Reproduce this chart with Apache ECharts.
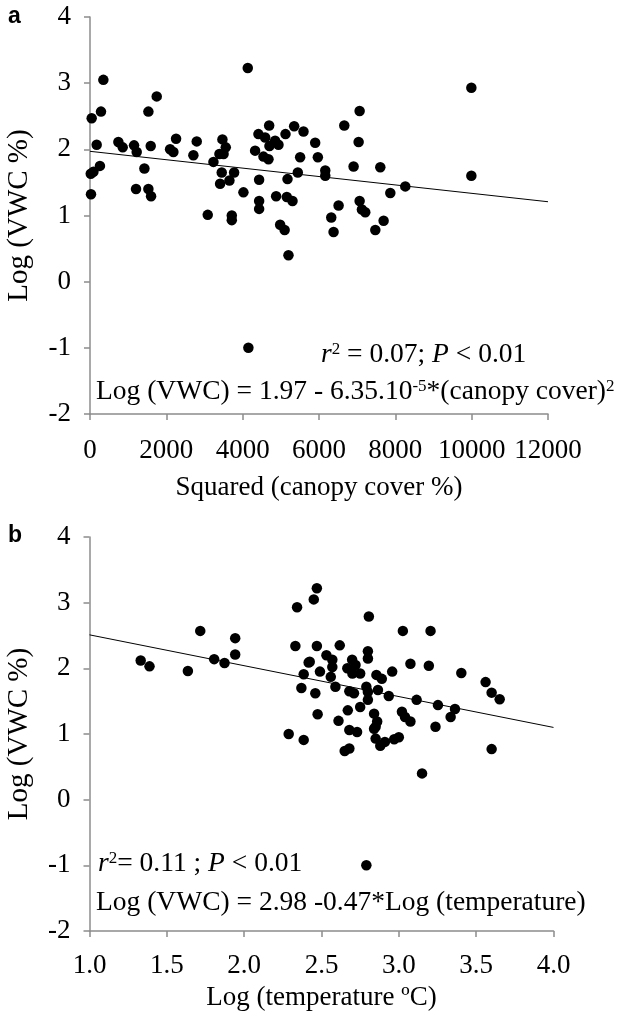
<!DOCTYPE html>
<html><head><meta charset="utf-8">
<script src="https://cdn.jsdelivr.net/npm/echarts@6.0.0/dist/echarts.min.js"></script>
<style>html,body{margin:0;padding:0;background:#fff}#c{width:623px;height:1016px}</style>
</head><body><div id="c"></div>
<script>
// Panel a: squared canopy cover (%) vs Log(VWC %)
const aCanopySq = [44,350,288,175,20,90,260,26,743,857,1154,1224,1206,1425,1530,1591,1530,1600,1748,2098,2185,2255,2709,2797,3085,3234,3470,3391,3557,3500,3452,3409,3653,3776,3715,3715,4020,4134,4326,4413,4545,4676,4589,4694,4702,4850,4938,4431,4431,4431,4877,4982,5100,5200,5122,5175,5157,5306,5349,5445,5506,5594,5900,5970,6164,6164,6662,7064,7038,6906,7606,8261,7868,9992,9992,6513,6321,6382,7064,7125,7212,7693,7475,4150];
const aLogVWC  = [2.47,3.05,2.57,2.07,1.63,1.66,1.75,1.32,2.11,2.03,2.06,1.96,1.40,1.71,2.57,2.05,1.40,1.29,2.80,2.00,1.96,2.16,1.91,2.12,1.01,1.81,2.15,1.93,2.03,1.93,1.65,1.48,1.53,1.65,1.00,0.93,1.35,3.23,1.98,2.23,1.89,1.85,2.18,2.36,2.05,2.13,2.07,1.54,1.22,1.10,1.29,0.86,0.78,0.40,2.23,1.55,1.28,1.22,2.35,1.65,1.88,2.27,2.10,1.88,1.68,1.60,2.36,2.58,2.11,1.74,1.73,1.44,1.34,2.93,1.60,1.15,0.97,0.75,1.22,1.09,1.05,0.92,0.78,-1.00];
// Panel b: Log(temperature) vs Log(VWC %)
const bLogTemp = [1.331,1.388,1.636,1.716,1.806,1.873,1.942,1.942,2.342,2.331,2.417,2.385,2.37,2.47,2.46,2.475,2.47,2.45,2.49,2.288,2.385,2.806,3.026,3.205,2.618,2.80,2.80,2.532,2.424,2.57,2.57,2.698,2.667,2.72,2.75,2.70,2.855,2.89,2.957,3.075,3.194,3.404,3.561,3.60,3.652,2.56,2.59,2.68,2.71,2.79,2.80,2.865,2.935,2.80,2.75,2.67,3.115,3.253,3.363,3.335,2.84,3.02,3.04,3.075,2.61,2.86,2.85,2.84,3.237,2.68,2.73,2.85,2.91,2.97,2.65,2.68,2.88,3.00,3.15,3.60,2.79];
const bLogVWC  = [2.12,2.03,1.96,2.57,2.14,2.08,2.46,2.21,2.93,2.34,2.09,1.91,1.70,2.34,1.62,1.30,3.22,3.05,1.95,1.00,0.91,2.79,2.57,2.57,2.35,2.26,2.15,2.20,2.10,2.13,2.02,2.13,2.00,2.05,1.92,1.92,1.90,1.84,1.95,2.07,2.04,1.93,1.79,1.63,1.53,1.87,1.72,1.65,1.62,1.72,1.64,1.67,1.58,1.52,1.41,1.36,1.52,1.44,1.38,1.26,1.31,1.34,1.26,1.19,1.20,1.19,1.11,1.08,1.11,1.06,1.03,0.93,0.88,0.92,0.74,0.78,0.82,0.95,0.40,0.77,-1.00];
// Regression fits (from the figure's equations)
const aIntercept = 1.97, aSlope = -6.35e-5, aRange = [0, 12000];
const bIntercept = 2.98, bSlope = -0.47, bRange = [1.0, 4.0];
const aXTicks = {min: 0, max: 12000, interval: 2000};
const bXTicks = {min: 1.0, max: 4.0, interval: 0.5};
const yTicks = {min: -2, max: 4, interval: 1};

const FONT = '"Liberation Serif","Times New Roman",serif';
const GRAY = '#8c8c8c';
const chart = echarts.init(document.getElementById('c'), null, {renderer: 'canvas'});

function pairs(xs, ys) { return xs.map((x, i) => [x, ys[i]]); }
function fitLine(b0, b1, r) { return r.map(x => [x, b0 + b1 * x]); }

function xAxisCfg(gi, t, name, fmt, margin, gap) {
  return {
    gridIndex: gi, type: 'value', min: t.min, max: t.max, interval: t.interval,
    axisLine: {show: true, onZero: false, lineStyle: {color: GRAY, width: 1.5}},
    axisTick: {show: true, inside: false, length: 6, lineStyle: {color: GRAY, width: 1.5}},
    splitLine: {show: false},
    axisLabel: {color: '#000', fontFamily: FONT, fontSize: 27, margin: margin, formatter: fmt},
    name: name, nameLocation: 'middle', nameGap: gap,
    nameTextStyle: {color: '#000', fontFamily: FONT, fontSize: 27}
  };
}
function yAxisCfg(gi) {
  return {
    gridIndex: gi, type: 'value', min: yTicks.min, max: yTicks.max, interval: yTicks.interval,
    axisLine: {show: true, onZero: false, lineStyle: {color: GRAY, width: 1.5}},
    axisTick: {show: true, inside: false, length: 6, lineStyle: {color: GRAY, width: 1.5}},
    splitLine: {show: false},
    axisLabel: {color: '#000', fontFamily: FONT, fontSize: 27, margin: 19},
    name: 'Log (VWC %)', nameLocation: 'middle', nameGap: 56, nameRotate: 90,
    nameTextStyle: {color: '#000', fontFamily: FONT, fontSize: 29}
  };
}
const FS = 27.5;
const rich = {
  t: {fontFamily: FONT, fontSize: FS, color: '#000'},
  i: {fontFamily: FONT, fontSize: FS, fontStyle: 'italic', color: '#000'},
  s: {fontFamily: FONT, fontSize: 17, color: '#000', verticalAlign: 'top'}
};
function txt(x, y, s) {
  return {type: 'text', x: x, y: y, z: 100,
    style: {text: s, rich: rich, fontFamily: FONT, fontSize: FS, fill: '#000', verticalAlign: 'middle'}};
}

chart.setOption({
  animation: false,
  backgroundColor: '#fff',
  grid: [
    {left: 90, right: 75, top: 17, height: 397, containLabel: false, outerBoundsMode: 'none'},
    {left: 89.5, right: 69.5, top: 537, height: 394, containLabel: false, outerBoundsMode: 'none'}
  ],
  xAxis: [
    xAxisCfg(0, aXTicks, 'Squared (canopy cover %)', v => String(v), 23, 60),
    xAxisCfg(1, bXTicks, 'Log (temperature ºC)', v => v.toFixed(1), 21, 53)
  ],
  yAxis: [yAxisCfg(0), yAxisCfg(1)],
  series: [
    {type: 'scatter', xAxisIndex: 0, yAxisIndex: 0, data: pairs(aCanopySq, aLogVWC),
     symbolSize: 10.5, itemStyle: {color: '#000', opacity: 1}},
    {type: 'line', xAxisIndex: 0, yAxisIndex: 0, data: fitLine(aIntercept, aSlope, aRange),
     showSymbol: false, lineStyle: {color: '#000', width: 1}, silent: true},
    {type: 'scatter', xAxisIndex: 1, yAxisIndex: 1, data: pairs(bLogTemp, bLogVWC),
     symbolSize: 10.5, itemStyle: {color: '#000', opacity: 1}},
    {type: 'line', xAxisIndex: 1, yAxisIndex: 1, data: fitLine(bIntercept, bSlope, bRange),
     showSymbol: false, lineStyle: {color: '#000', width: 1}, silent: true}
  ],
  graphic: [
    {type: 'text', x: 8, y: 17, style: {text: 'a', fontFamily: 'Liberation Sans, Arial, sans-serif', fontWeight: 'bold', fontSize: 23, fill: '#000', verticalAlign: 'middle'}},
    {type: 'text', x: 8, y: 536, style: {text: 'b', fontFamily: 'Liberation Sans, Arial, sans-serif', fontWeight: 'bold', fontSize: 23, fill: '#000', verticalAlign: 'middle'}},
    txt(321, 355, '{i|r}{s|2}{t| = 0.07; }{i|P}{t| < 0.01}'),
    txt(96, 392, '{t|Log (VWC) = 1.97 - 6.35.10}{s|-5}{t|*(canopy cover)}{s|2}'),
    txt(98, 864, '{i|r}{s|2}{t|= 0.11 ; }{i|P}{t| < 0.01}'),
    txt(96, 903, '{t|Log (VWC) = 2.98 -0.47*Log (temperature)}')
  ]
});
</script></body></html>
